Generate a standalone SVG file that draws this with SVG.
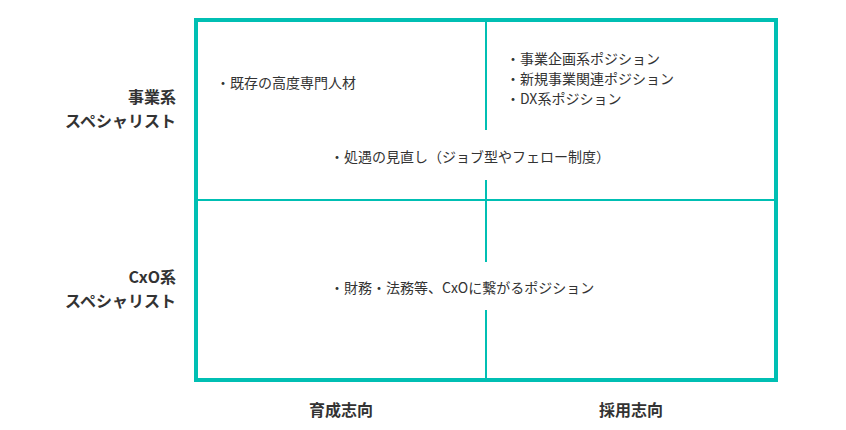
<svg xmlns="http://www.w3.org/2000/svg" width="846" height="430" viewBox="0 0 846 430">
<style>
.t{font-family:"Noto Sans CJK JP","Noto Sans",sans-serif;font-size:14px;fill:#333}
.b{font-family:"Noto Sans CJK JP","Noto Sans",sans-serif;font-size:16px;font-weight:bold;fill:#333}
.l{stroke:#00BFB3;fill:none}
</style>
<rect width="846" height="430" fill="#fff"/>
<g id="connectors">
<line class="l" x1="196" y1="200" x2="776" y2="200" stroke-width="2"/>
<line class="l" x1="486" y1="20" x2="486" y2="130" stroke-width="2"/>
<line class="l" x1="486" y1="180" x2="486" y2="262" stroke-width="2"/>
<line class="l" x1="486" y1="310" x2="486" y2="380" stroke-width="2"/>
<rect class="l" x="196" y="20" width="580" height="360" stroke-width="4"/>
</g>
<g id="q1"><text class="t" x="216" y="88">・既存の高度専門人材</text></g>
<g id="q2"><text class="t" x="506" y="64">・事業企画系ポジション</text><text class="t" x="506" y="84">・新規事業関連ポジション</text><text class="t" x="506" y="104">・DX系ポジション</text></g>
<g id="center1"><text class="t" x="330" y="162">・処遇の見直し（ジョブ型やフェロー制度）</text></g>
<g id="center2"><text class="t" x="330" y="293">・財務・法務等、CxOに繋がるポジション</text></g>
<g id="rowlabels" text-anchor="end">
<text class="b" x="176" y="103">事業系</text><text class="b" x="176" y="127">スペシャリスト</text>
<text class="b" x="176" y="283">CxO系</text><text class="b" x="176" y="307">スペシャリスト</text>
</g>
<g id="collabels" text-anchor="middle">
<text class="b" x="341" y="416">育成志向</text><text class="b" x="631" y="416">採用志向</text>
</g>
</svg>
